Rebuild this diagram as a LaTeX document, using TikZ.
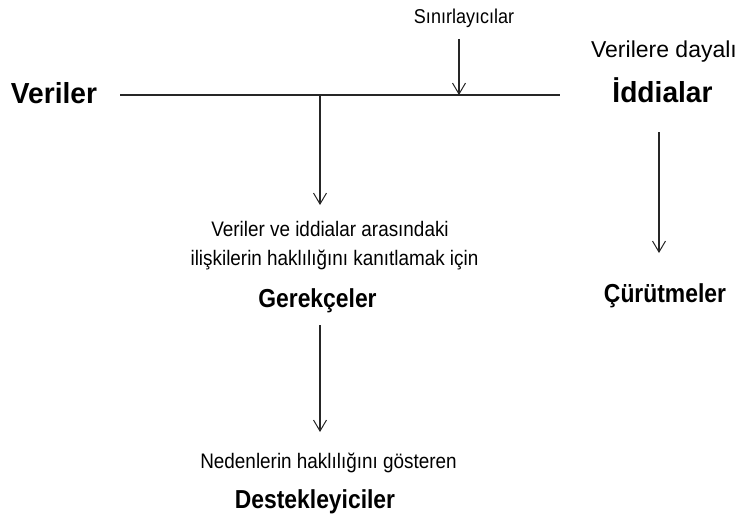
\documentclass[tikz,border=0pt]{standalone}
\usepackage{fontspec}
\setmainfont{Liberation Sans}
\newfontfamily\regfont{Liberation Sans}[FakeStretch=0.9]
\newfontfamily\wideregfont{Liberation Sans}
\newfontfamily\condbold{Liberation Sans}[FakeStretch=0.88]
\newfontfamily\headbold{Liberation Sans}[FakeStretch=0.97]
\usetikzlibrary{arrows.meta}
\tikzset{
  txt/.style={anchor=base, inner sep=0pt, font=\regfont\fontsize{21}{25}\selectfont},
  smalltxt/.style={anchor=base, inner sep=0pt, font=\regfont\fontsize{20}{24}\selectfont},
  widetxt/.style={anchor=base, inner sep=0pt, font=\wideregfont\fontsize{23}{27}\selectfont},
  boldtxt/.style={anchor=base, inner sep=0pt, font=\condbold\bfseries\fontsize{26}{30}\selectfont},
  headtxt/.style={anchor=base, inner sep=0pt, font=\headbold\bfseries\fontsize{29}{34}\selectfont},
  axis line/.style={line width=1.1pt, draw=black!85},
  link/.style={line width=1.1pt, draw=black!85, -{Straight Barb[length=11pt,width=13pt,line width=1pt]}},
}
\begin{document}
\begin{tikzpicture}[x=1pt,y=-1pt]
  \useasboundingbox (0,0) rectangle (738,519);

  % main data -> claim line
  \coordinate (lineL) at (120,95);
  \coordinate (lineR) at (560,95);
  \coordinate (warrantJoin) at (320,95);
  \coordinate (qualJoin) at (459,95);
  \draw[axis line] (lineL) -- (lineR);

  % labels at the ends of the line
  \node[headtxt] (data) at (54,103) {Veriler};
  \node[headtxt] (claim) at (662.5,102) {İddialar};
  \node[widetxt] (claimNote) at (664,57) {Verilere dayalı};

  % qualifier arrow
  \node[smalltxt] (qual) at (464,24) {Sınırlayıcılar};
  \coordinate (qualStart) at (459,39);
  \draw[link] (qualStart) -- (qualJoin);

  % warrant branch
  \coordinate (warrantEnd) at (320,205);
  \draw[link] (warrantJoin) -- (warrantEnd);
  \node[txt] (warrantNote1) at (330,236) {Veriler ve iddialar arasındaki};
  \node[txt] (warrantNote2) at (334.5,265) {ilişkilerin haklılığını kanıtlamak için};
  \node[boldtxt] (warrant) at (317.5,307) {Gerekçeler};

  % backing branch
  \coordinate (backStart) at (320,325);
  \coordinate (backEnd) at (320,432);
  \draw[link] (backStart) -- (backEnd);
  \node[txt] (backNote) at (328.5,468) {Nedenlerin haklılığını gösteren};
  \node[boldtxt] (backing) at (315,508) {Destekleyiciler};

  % rebuttal branch
  \coordinate (rebStart) at (659,132);
  \coordinate (rebEnd) at (659,253);
  \draw[link] (rebStart) -- (rebEnd);
  \node[boldtxt] (rebuttal) at (665,302) {Çürütmeler};
\end{tikzpicture}
\end{document}
